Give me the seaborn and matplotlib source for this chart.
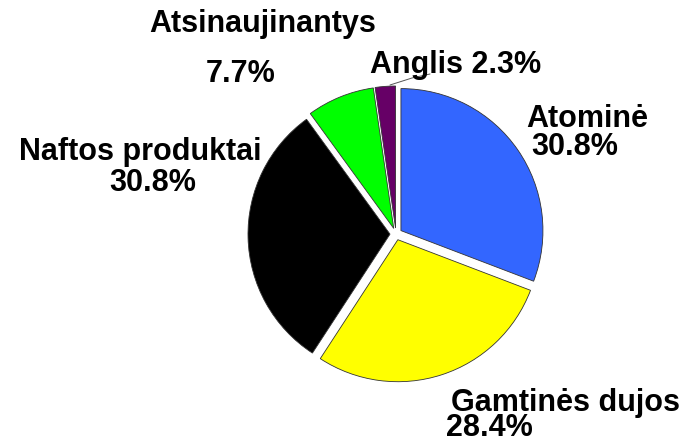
import matplotlib
matplotlib.use("Agg")
import matplotlib.pyplot as plt
import seaborn as sns

sns.set_theme(style="white")
plt.rcParams['font.family'] = ['Liberation Sans', 'DejaVu Sans']

categories = ["Atominė", "Gamtinės dujos", "Naftos produktai", "Atsinaujinantys", "Anglis"]
values = [30.8, 28.4, 30.8, 7.7, 2.3]
colors = ["#3366FF", "#FFFF00", "#000000", "#00FF00", "#660066"]

fig = plt.figure(figsize=(6.91, 4.40), dpi=100)
ax = fig.add_axes([0, 0, 1, 1])
ax.set_xlim(0, 691)
ax.set_ylim(0, 440)
ax.axis("off")

cx, cy, R = 396, 440 - 234, 142
ax.pie(values, colors=colors, startangle=90, counterclock=False,
       center=(cx, cy), radius=R, explode=[6] * len(values),
       wedgeprops=dict(edgecolor="#333333", linewidth=0.6))
ax.set_xlim(0, 691)
ax.set_ylim(0, 440)
ax.set_aspect("equal")

fs = 22
def t(x, y, s):
    ax.text(x, 440 - y, s, ha="center", va="center", fontsize=fs, fontweight="bold", color="black")

t(587, 119, categories[0])
t(575, 147, f"{values[0]}%")
t(566, 403, categories[1])
t(489, 428, f"{values[1]}%")
t(140, 152, categories[2])
t(153, 183, f"{values[2]}%")
t(263, 24, categories[3])
t(241, 74, f"{values[3]}%")
t(456, 65, f"{categories[4]} {values[4]}%")

ax.plot([390, 412, 430], [440 - 85, 440 - 78, 440 - 74], color="#555555", lw=0.7)

fig.savefig("out.png", dpi=100)
